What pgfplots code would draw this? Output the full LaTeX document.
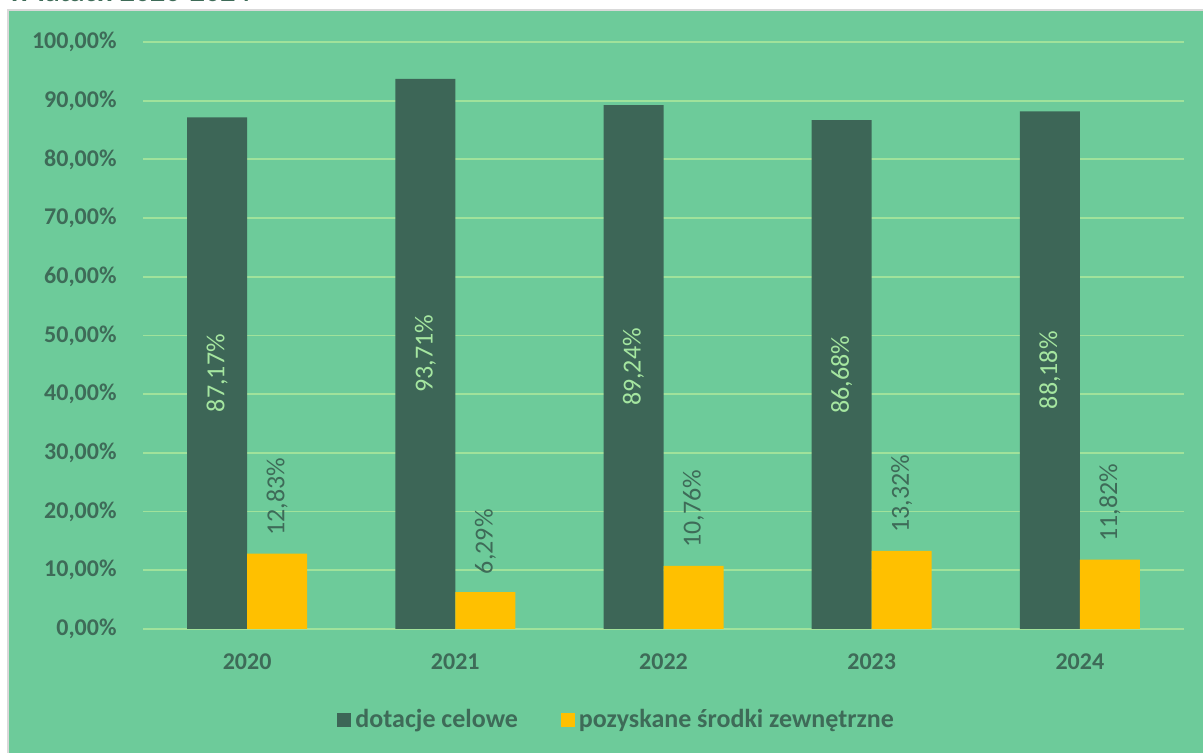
\documentclass[border=0pt]{standalone}
\usepackage{fontspec}
\setmainfont{Carlito}
\usepackage{pgfplots}
\pgfplotsset{compat=1.18}
\definecolor{bg}{RGB}{109,203,154}
\definecolor{darkbar}{RGB}{61,102,87}
\definecolor{yel}{RGB}{255,192,0}
\definecolor{gridc}{RGB}{160,226,155}
\definecolor{txt}{RGB}{62,107,88}
\definecolor{lightlab}{RGB}{165,230,160}
\begin{document}
\begin{tikzpicture}[x=1pt,y=1pt]
\useasboundingbox (0,0) rectangle (601.5,376.5);
\fill[white] (0,0) rectangle (601.5,376.5);
\fill[bg] (4,0) rectangle (601.5,371.5);
\draw[black!15, line width=1pt] (4,0) -- (4,371.5) -- (601.5,371.5);
\node[anchor=base west, inner sep=0pt, font=\bfseries\fontsize{15}{18}\selectfont, text=txt] at (4,375.5) {w latach 2020-2024};
\begin{axis}[
  at={(71.5pt,62pt)}, anchor=south west,
  scale only axis, width=520.5pt, height=293.5pt,
  xmin=-0.5, xmax=4.5, ymin=0, ymax=100,
  ybar=0pt, bar width=30pt,
  xtick={0,1,2,3,4}, xticklabels={2020,2021,2022,2023,2024},
  ytick={0,10,...,100},
  yticklabels={{0,00\%},{10,00\%},{20,00\%},{30,00\%},{40,00\%},{50,00\%},{60,00\%},{70,00\%},{80,00\%},{90,00\%},{100,00\%}},
  ymajorgrids, grid style={color=gridc, line width=0.9pt},
  axis line style={draw=none}, major tick length=0pt,
  tick label style={font=\bfseries\fontsize{12}{14}\selectfont, text=txt},
  xticklabel style={yshift=-8.7pt},
  yticklabel style={xshift=-9.7pt},
  legend style={at={(0.1864,-0.155)}, anchor=west, legend columns=2, draw=none, fill=none, inner sep=0pt,
    font=\bfseries\fontsize{13}{15}\selectfont, text=txt,
    /tikz/every even column/.append style={column sep=19.5pt},
    nodes={inner xsep=2pt}},
  legend image code/.code={\fill[#1] (0pt,-3.5pt) rectangle (7pt,3.5pt);},
]
\addplot[fill=darkbar, draw=none, nodes near coords, point meta=explicit symbolic,
  visualization depends on=y \as \rawy,
  every node near coord/.append style={shift={(axis direction cs:0,-\rawy/2)}, rotate=90, anchor=center, text=lightlab, font=\fontsize{13}{15}\selectfont}]
coordinates {(0,87.17) [87,17\%] (1,93.71) [93,71\%] (2,89.24) [89,24\%] (3,86.68) [86,68\%] (4,88.18) [88,18\%]};
\addlegendentry{dotacje celowe}
\addplot[fill=yel, draw=none, nodes near coords, point meta=explicit symbolic,
  every node near coord/.append style={yshift=5.5pt, rotate=90, anchor=west, text=txt, font=\fontsize{13}{15}\selectfont}]
coordinates {(0,12.83) [12,83\%] (1,6.29) [6,29\%] (2,10.76) [10,76\%] (3,13.32) [13,32\%] (4,11.82) [11,82\%]};
\addlegendentry{pozyskane środki zewnętrzne}
\end{axis}
\end{tikzpicture}
\end{document}
